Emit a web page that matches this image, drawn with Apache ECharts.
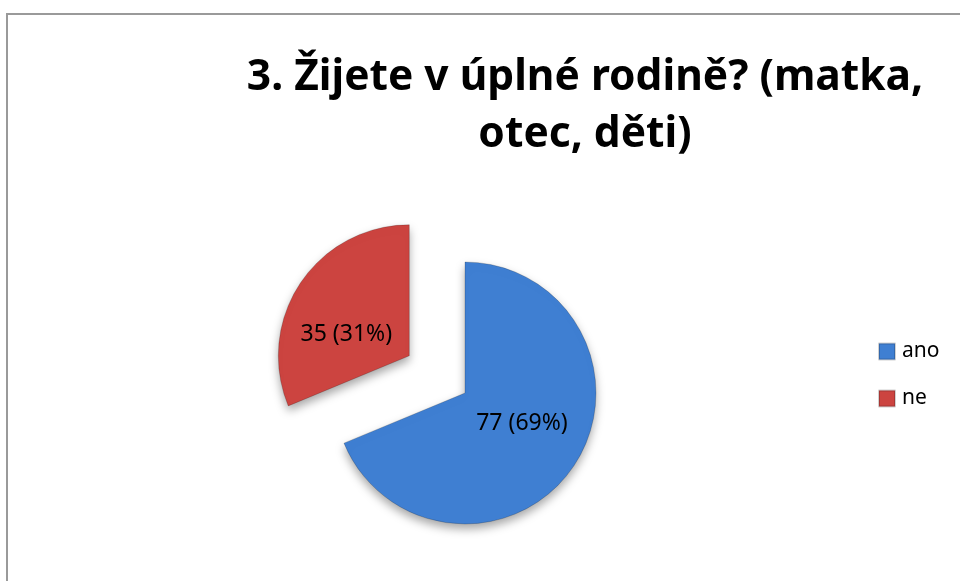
<!DOCTYPE html>
<html lang="cs">
<head>
  <meta charset="UTF-8">
  <title>Žijete v úplné rodině?</title>
  <style>
    html, body {margin: 0; padding: 0; background: #fff;}
    #chart {width: 960px; height: 581px;}
  </style>
</head>
<body>
  <div id="chart"></div>
  <script src="https://cdn.jsdelivr.net/npm/echarts@6/dist/echarts.min.js"></script>
  <script>
    // data
    var categories = ['ano', 'ne'];
    var values = [77, 35];
    var colors = ['#3f7fd2', '#cc4440'];
    // posun popisků, aby seděly jako v původním grafu
    var labelShift = [[0, -8], [-6, 17]];

    var chart = echarts.init(document.getElementById('chart'));

    var pieData = categories.map(function (name, i) {
      return {
        name: name,
        value: values[i],
        selected: name === 'ne',   // vysunutý dílek
        itemStyle: {color: colors[i]},
        label: {offset: labelShift[i]},
        select: {label: {offset: labelShift[i]}}
      };
    });

    var option = {
      animation: false,
      textStyle: {fontFamily: 'Noto Sans'},
      title: {
        text: '3. Žijete v úplné rodině? (matka,\notec, děti)',
        left: 580,
        top: 44,
        textAlign: 'center',
        textStyle: {
          fontFamily: 'Noto Sans',
          fontWeight: 'bold',
          fontSize: 42.5,
          lineHeight: 57,
          color: '#000'
        }
      },
      legend: {
        orient: 'vertical',
        left: 873,
        top: 336,
        icon: 'rect',
        itemWidth: 16,
        itemHeight: 16,
        itemGap: 26,
        data: categories,
        textStyle: {fontSize: 21, lineHeight: 21, color: '#000', padding: [0, 0, 0, 2]}
      },
      graphic: [{
        type: 'rect',
        silent: true,
        shape: {x: 7, y: 14, width: 1000, height: 620},
        style: {fill: 'none', stroke: '#9a9a9a', lineWidth: 2}
      }],
      series: [{
        type: 'pie',
        center: [465, 393],
        radius: [0, 131],
        startAngle: 90,
        selectedMode: 'single',
        selectedOffset: 67,
        percentPrecision: 0,
        legendHoverLink: false,
        itemStyle: {
          borderColor: 'rgba(0,0,0,0.18)',
          borderWidth: 1,
          shadowBlur: 10,
          shadowOffsetY: 5,
          shadowColor: 'rgba(0,0,0,0.35)'
        },
        label: {
          position: 'inner',
          formatter: '{c} ({d}%)',
          fontSize: 23,
          color: '#000'
        },
        labelLine: {show: false},
        data: pieData
      }]
    };

    chart.setOption(option);
  </script>
</body>
</html>
